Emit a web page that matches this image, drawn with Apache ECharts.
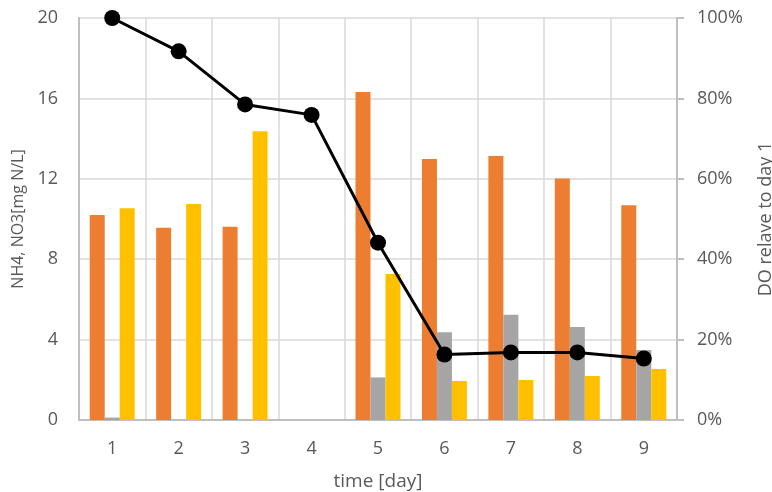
<!DOCTYPE html>
<html><head><meta charset="utf-8">
<script src="https://cdn.jsdelivr.net/npm/echarts@6/dist/echarts.min.js"></script>
<style>html,body{margin:0;padding:0;background:#fff}#c{width:772px;height:492px}</style>
</head><body><div id="c"></div>
<script>
const days = ['1','2','3','4','5','6','7','8','9'];
const nh4 = [10.2, 9.57, 9.62, 0, 16.32, 12.99, 13.13, 12.02, 10.68];
const grayVals = [0.12, 0, 0, 0, 2.12, 4.36, 5.24, 4.63, 3.48];
const no3 = [10.53, 10.75, 14.36, 0, 7.26, 1.94, 1.99, 2.19, 2.54];
const doRel = [1.0, 0.917, 0.785, 0.759, 0.441, 0.163, 0.168, 0.168, 0.153];
const leftTicks = [0, 4, 8, 12, 16, 20];

const font = 'Open Sans';
const txt = '#595959';
const chart = echarts.init(document.getElementById('c'));
chart.setOption({
  animation: false,
  textStyle: {fontFamily: font},
  grid: {left: 79, right: 95, top: 18, bottom: 72, containLabel: false, outerBoundsMode: 'none'},
  xAxis: {
    type: 'category', data: days,
    name: 'time [day]', nameLocation: 'middle', nameGap: 52,
    nameTextStyle: {color: txt, fontSize: 19, fontFamily: font},
    axisLine: {lineStyle: {color: '#bfbfbf', width: 2}},
    axisTick: {show: false},
    axisLabel: {color: txt, fontSize: 18, margin: 20},
    splitLine: {show: true, lineStyle: {color: '#d9d9d9', width: 1.5}}
  },
  yAxis: [{
    type: 'value', min: leftTicks[0], max: leftTicks[leftTicks.length-1], interval: 4,
    name: 'NH4, NO3[mg N/L]', nameLocation: 'middle', nameGap: 49, nameRotate: 90,
    nameTextStyle: {color: txt, fontSize: 16, fontFamily: font},
    axisLine: {show: true, lineStyle: {color: '#bfbfbf', width: 2}},
    axisTick: {show: false},
    axisLabel: {color: txt, fontSize: 18, margin: 21},
    splitLine: {lineStyle: {color: '#d9d9d9', width: 1.5}}
  }, {
    type: 'value', min: 0, max: 1, interval: 0.2,
    name: 'DO relave to day 1', nameLocation: 'middle', nameGap: 80, nameRotate: 90,
    nameTextStyle: {color: txt, fontSize: 18, fontFamily: font},
    axisLine: {show: true, lineStyle: {color: '#bfbfbf', width: 2}},
    axisTick: {show: true, length: 7, lineStyle: {color: '#bfbfbf', width: 2}},
    axisLabel: {color: txt, fontSize: 18, margin: 20, formatter: v => Math.round(v*100) + '%'},
    splitLine: {show: false}
  }],
  series: [
    {type: 'bar', data: nh4, barWidth: 15, barGap: '0%', itemStyle: {color: '#ED7D31'}},
    {type: 'bar', data: grayVals, barWidth: 15, barGap: '0%', itemStyle: {color: '#A5A5A5'}},
    {type: 'bar', data: no3, barWidth: 15, barGap: '0%', itemStyle: {color: '#FFC000'}},
    {type: 'line', yAxisIndex: 1, data: doRel, symbol: 'circle', symbolSize: 16,
     lineStyle: {color: '#000', width: 3}, itemStyle: {color: '#000'}, z: 5}
  ]
});
</script></body></html>
